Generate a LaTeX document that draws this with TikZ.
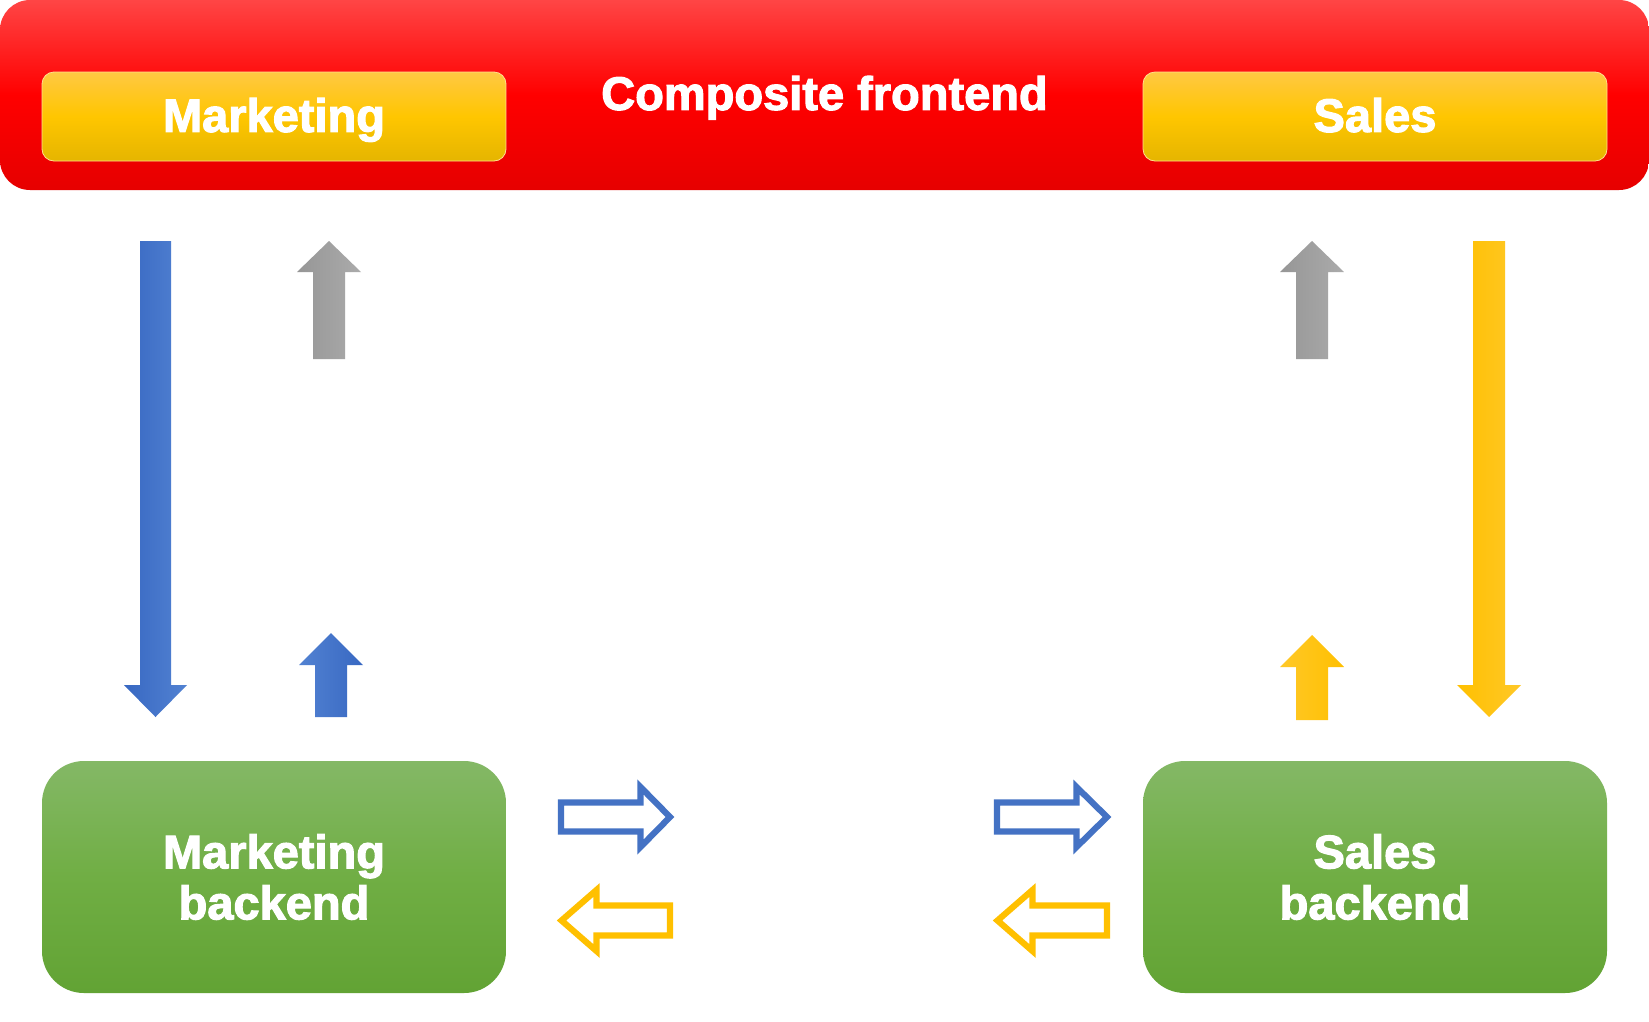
\documentclass[tikz,border=0pt]{standalone}
\usepackage{fontspec}
\newfontfamily\hf[BoldFeatures={FakeBold=2.4}]{Liberation Sans}
\definecolor{redtop}{HTML}{FF4545}
\definecolor{redmid}{HTML}{FF0000}
\definecolor{redbot}{HTML}{E60000}
\definecolor{yeltop}{HTML}{FFC843}
\definecolor{yelmid}{HTML}{FFC600}
\definecolor{yelbot}{HTML}{E5B500}
\definecolor{grntop}{HTML}{84B866}
\definecolor{grnmid}{HTML}{70AE44}
\definecolor{grnbot}{HTML}{62A334}
\definecolor{blueA}{HTML}{3868C2}
\definecolor{blueB}{HTML}{5282D2}
\definecolor{grayA}{HTML}{969696}
\definecolor{grayB}{HTML}{ABABAB}
\definecolor{yelA}{HTML}{FFC000}
\definecolor{yelB}{HTML}{FFC828}
\definecolor{blueline}{HTML}{4472C4}
\definecolor{yelline}{HTML}{FFC000}
\tikzset{
  lbl/.style={text=white, font=\hf\bfseries\fontsize{47}{51}\selectfont, align=center},
  onelbl/.style={lbl, text height=34.3pt, text depth=0.5pt},
  redbox/.style={lbl, rounded corners=30pt, top color=redtop, bottom color=redbot, middle color=redmid, draw=none},
  yelbox/.style={onelbl, rounded corners=12pt, top color=yeltop, bottom color=yelbot, middle color=yelmid, draw=yeltop!60!white, line width=0.8pt, minimum width=464pt, minimum height=89pt},
  grnbox/.style={lbl, rounded corners=42pt, top color=grntop, bottom color=grnbot, middle color=grnmid, draw=none, minimum width=464pt, minimum height=232pt},
  outarrow/.style={line width=6.2pt, fill=white, line join=miter},
}
\begin{document}
\begin{tikzpicture}[x=1pt,y=-1pt]
\useasboundingbox (0,0) rectangle (1649,1021);
\fill[white] (0,0) rectangle (1649,1021);
% frontend
\node[redbox, minimum width=1649pt, minimum height=190pt, inner sep=0pt] (front) at (824.5,95) {};
\node[onelbl] (fronttxt) at (824.5,93) {Composite frontend};
\node[yelbox] (mkt) at (274,116.5) {};
\node[onelbl] (mkttxt) at (mkt) [yshift=1.5pt] {Marketing};
\node[yelbox] (sales) at (1375,116.5) {};
\node[onelbl] (salestxt) at (sales) [yshift=1.5pt] {Sales};
% backends
\node[grnbox] (mktb) at (274,877) {Marketing\\backend};
\node[grnbox] (salesb) at (1375,877) {Sales\\backend};
% block arrows
\shade[left color=blueA, right color=blueB]
  (140,241) -- (171,241) -- (171,685) -- (187,685) -- (155.5,717) -- (124,685) -- (140,685) -- cycle;
\shade[left color=grayA, right color=grayB]
  (313,359) -- (345,359) -- (345,272) -- (361,272) -- (329,241) -- (297,272) -- (313,272) -- cycle;
\shade[left color=blueB, right color=blueA]
  (315,717) -- (347,717) -- (347,665) -- (363,665) -- (331,633) -- (299,665) -- (315,665) -- cycle;
\shade[left color=grayA, right color=grayB]
  (1296,359) -- (1328,359) -- (1328,272) -- (1344,272) -- (1312,241) -- (1280,272) -- (1296,272) -- cycle;
\shade[left color=yelA, right color=yelB]
  (1473,241) -- (1505,241) -- (1505,685) -- (1521,685) -- (1489,717) -- (1457,685) -- (1473,685) -- cycle;
\shade[left color=yelB, right color=yelA]
  (1296,720) -- (1328,720) -- (1328,667) -- (1344,667) -- (1312,635) -- (1280,667) -- (1296,667) -- cycle;
% outline arrows
\draw[outarrow, draw=blueline]
  (561,802.5) -- (640.5,802.5) -- (640.5,787) -- (670,817) -- (640.5,847) -- (640.5,831.5) -- (561,831.5) -- cycle;
\draw[outarrow, draw=yelline]
  (670,905.5) -- (596.5,905.5) -- (596.5,890) -- (561.5,920.5) -- (596.5,951) -- (596.5,935.5) -- (670,935.5) -- cycle;
\draw[outarrow, draw=blueline]
  (997,802.5) -- (1076.5,802.5) -- (1076.5,787) -- (1107,817) -- (1076.5,847) -- (1076.5,831.5) -- (997,831.5) -- cycle;
\draw[outarrow, draw=yelline]
  (1107,905.5) -- (1032.5,905.5) -- (1032.5,890) -- (997.5,920.5) -- (1032.5,951) -- (1032.5,935.5) -- (1107,935.5) -- cycle;
\end{tikzpicture}
\end{document}
